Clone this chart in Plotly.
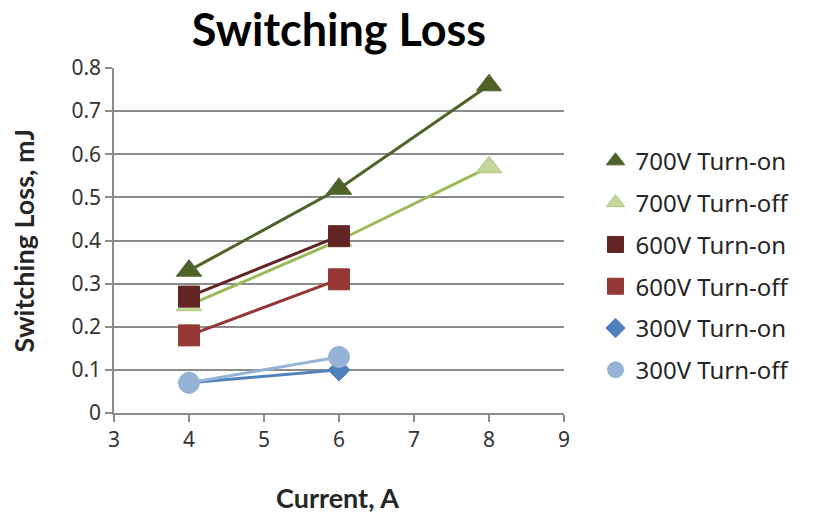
import plotly.graph_objects as go

current = [4, 6, 8]
on_700 = [0.33, 0.52, 0.76]
off_700 = [0.25, 0.40, 0.57]
on_600 = [0.27, 0.41]
off_600 = [0.18, 0.31]
on_300 = [0.07, 0.10]
off_300 = [0.07, 0.13]

names = ["700V Turn-on", "700V Turn-off", "600V Turn-on", "600V Turn-off", "300V Turn-on", "300V Turn-off"]
series = [on_700, off_700, on_600, off_600, on_300, off_300]
line_colors = ["#4F6228", "#9BBB59", "#632523", "#953735", "#4F81BD", "#95B3D7"]
marker_colors = ["#4F6228", "#C3D69B", "#632523", "#953735", "#4F81BD", "#95B3D7"]
marker_lines = ["#4F6228", "#A9C774", "#632523", "#953735", "#4F81BD", "#95B3D7"]
symbols = ["triangle-up", "triangle-up", "square", "square", "diamond", "circle"]
sizes = [22, 22, 21, 21, 17, 21]
leg_sizes = [17, 17, 16, 16, 15, 17]

fig = go.Figure()
for i, (n, ys) in enumerate(zip(names, series)):
    fig.add_trace(go.Scatter(
        x=current[:len(ys)], y=ys, name=n, mode="lines+markers",
        showlegend=False,
        line=dict(color=line_colors[i], width=3),
        marker=dict(symbol=symbols[i], size=sizes[i], color=marker_colors[i],
                    line=dict(color=marker_lines[i], width=1)),
    ))
for i, n in enumerate(names):
    fig.add_trace(go.Scatter(
        x=[None], y=[None], name=n, mode="markers", legendgroup=str(i),
        marker=dict(symbol=symbols[i], size=leg_sizes[i], color=marker_colors[i],
                    line=dict(color=marker_lines[i], width=1)),
    ))

L, T, PW, PH = 106, 60, 450, 345
title_font = dict(family="Lato, Open Sans, sans-serif", size=27, color="#262626")
fig.update_layout(
    width=814, height=514,
    paper_bgcolor="white", plot_bgcolor="white",
    margin=dict(l=L, r=814 - L - PW, t=T, b=514 - T - PH, autoexpand=False),
    title=dict(text="<b>Switching Loss</b>", x=(L + PW / 2) / 814, xanchor="center",
               y=1 - 22 / 514, yanchor="middle",
               font=dict(family="Lato, Open Sans, sans-serif", size=45, color="black")),
    font=dict(family="Noto Sans, Open Sans, sans-serif", color="#404040"),
    legend=dict(x=1.07, xanchor="left", y=0.795, yanchor="top",
                font=dict(size=24, color="#262626"), tracegroupgap=7.6,
                itemwidth=30),
    showlegend=True,
    annotations=[
        dict(text="<b>Current, A</b>", xref="paper", yref="paper",
             x=(329 - L) / PW, y=1 - (489 - T) / PH, xanchor="center", yanchor="middle",
             showarrow=False, font=title_font),
        dict(text="<b>Switching Loss, mJ</b>", xref="paper", yref="paper", textangle=-90,
             x=(15 - L) / PW, y=0.5, xanchor="center", yanchor="middle",
             showarrow=False, font=title_font),
    ],
)
fig.update_xaxes(range=[3, 9], dtick=1, tick0=3, showgrid=False, automargin=False,
                 showline=True, linecolor="#8C8C8C", linewidth=1.5,
                 ticks="outside", ticklen=7, tickcolor="#8C8C8C", tickwidth=1.5,
                 tickfont=dict(size=21, color="#333333"),
                 zeroline=False)
fig.update_yaxes(range=[0, 0.8], dtick=0.1, showgrid=True, gridcolor="#8C8C8C", gridwidth=1.5,
                 showline=True, linecolor="#8C8C8C", linewidth=1.5, automargin=False,
                 ticks="outside", ticklen=7, tickcolor="#8C8C8C", tickwidth=1.5,
                 tickfont=dict(size=21, color="#333333"),
                 zeroline=False, tickformat="~g")

fig.write_html("out.html")
